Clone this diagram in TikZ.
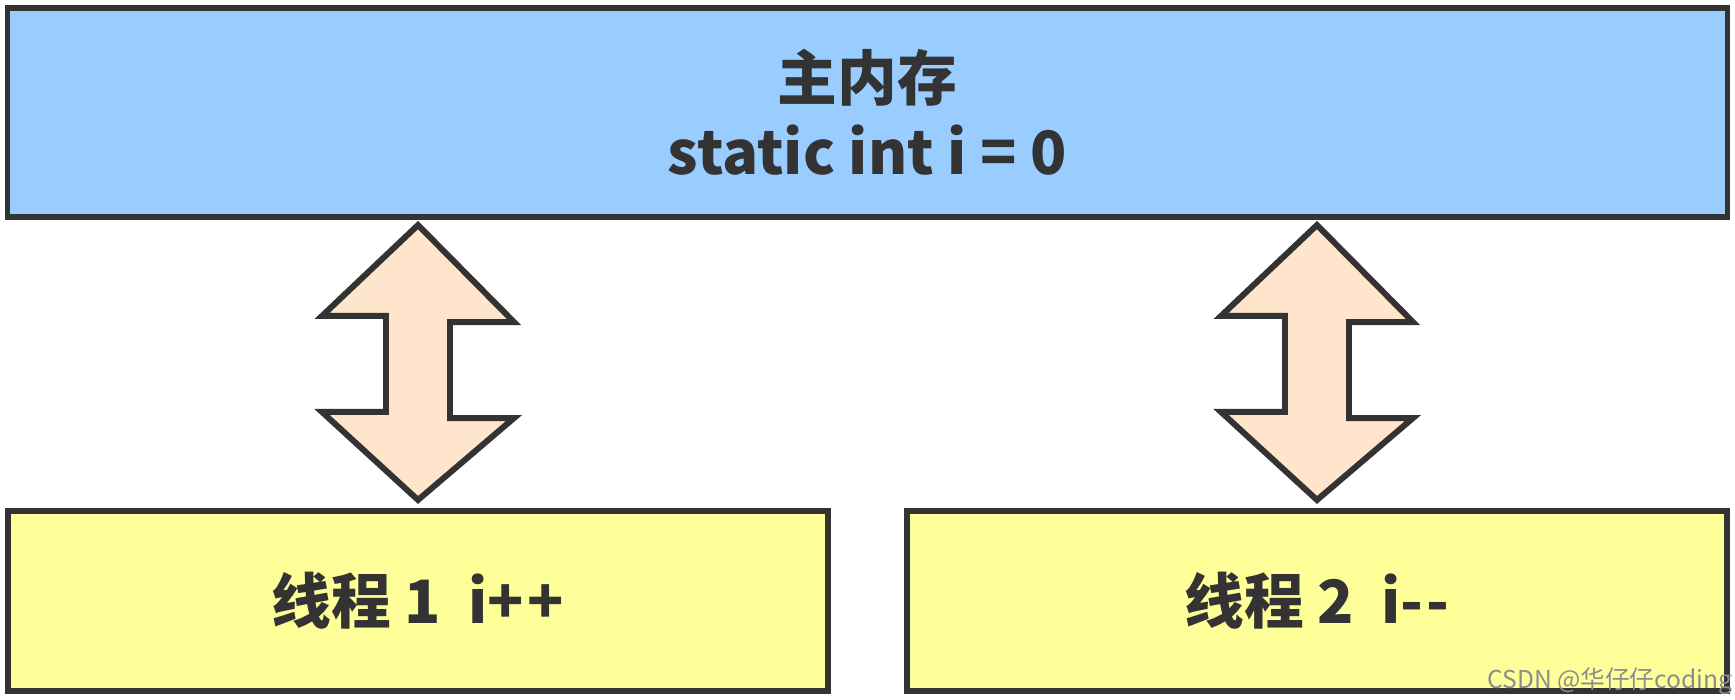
\documentclass[tikz,border=0pt]{standalone}
\usepackage{fontspec}
\usepackage{tikz}
\usepackage{xcolor}
\usetikzlibrary{calc}
\setmainfont{Noto Sans CJK SC}

\definecolor{memblue}{HTML}{99CCFF}
\definecolor{threadyellow}{HTML}{FFFF99}
\definecolor{syncpeach}{HTML}{FFE5CC}
\definecolor{edgegray}{HTML}{333333}

\begin{document}
\begin{tikzpicture}[x=0.01cm, y=-0.01cm,
		box/.style={draw=edgegray, line width=1.7pt, inner sep=0pt, align=center,
			font=\fontsize{17}{21}\selectfont\bfseries, text=edgegray},
		membox/.style={box, fill=memblue, minimum width=17.19cm, minimum height=2.09cm},
		threadbox/.style={box, fill=threadyellow, minimum width=8.20cm, minimum height=1.80cm},
		syncarrow/.style={draw=edgegray, line width=1.7pt, fill=syncpeach}]
				\useasboundingbox (0, 0) rectangle (1735, 700);
				\node[membox] (mem) at (867.5, 112.5) {主内存\\static int i = 0};
				\node[threadbox] (t1) at (418, 601) {线程 1~~i+\kern1pt+};
				\node[threadbox] (t2) at (1317, 601) {线程 2~~i-\kern1pt-};
				\coordinate (a1top) at ($(mem.south -| t1.north) + (0, 5)$);
				\coordinate (a1bot) at ($(t1.north) + (0, -8)$);
				\coordinate (a2top) at ($(mem.south -| t2.north) + (0, 5)$);
				\coordinate (a2bot) at ($(t2.north) + (0, -8)$);
				\draw[syncarrow] (a1top) -- ++(96, 97) -- ++(-64, 0) -- ++(0, 96) -- ++(64, 0) -- (a1bot)
					-- ++(-96, -88) -- ++(64, 0) -- ++(0, -96) -- ++(-64, 0) -- cycle;
				\draw[syncarrow] (a2top) -- ++(96, 97) -- ++(-64, 0) -- ++(0, 96) -- ++(64, 0) -- (a2bot)
					-- ++(-96, -88) -- ++(64, 0) -- ++(0, -96) -- ++(-64, 0) -- cycle;
				\node[anchor=east, text=black!45, font=\fontsize{7}{8}\selectfont, inner sep=0pt] (mark) at (1733, 681) {CSDN @华仔仔coding};
			\end{tikzpicture}
\end{document}
